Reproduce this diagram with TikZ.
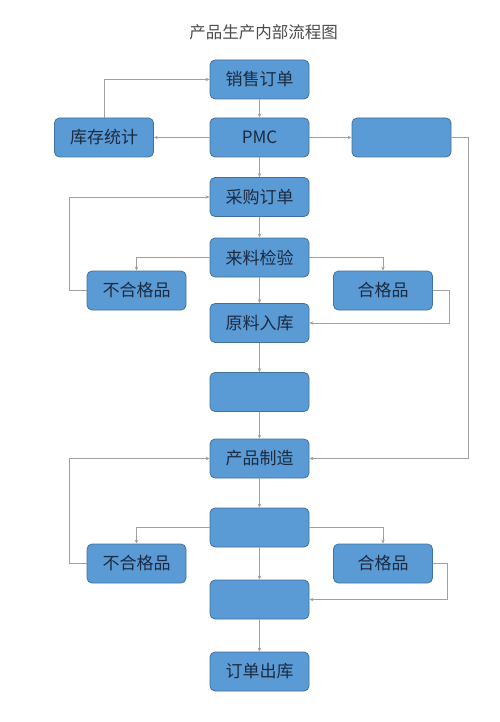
\documentclass[tikz,border=0pt]{standalone}
\usepackage{fontspec}
\setmainfont{Noto Sans CJK SC}
\usetikzlibrary{arrows.meta}
\definecolor{boxfill}{HTML}{5B9BD5}
\definecolor{boxline}{HTML}{41719C}
\definecolor{txt}{HTML}{1B2A40}
\definecolor{conncol}{HTML}{A0A0A0}
\begin{document}
\begin{tikzpicture}[x=1pt,y=-1pt,
 box/.style={draw=boxline, fill=boxfill, line width=0.8pt, rounded corners=5pt, minimum width=99pt, minimum height=39pt, inner sep=0pt, text=txt, font=\fontsize{17}{17}\selectfont},
 conn/.style={draw=conncol, line width=0.8pt, -{Stealth[length=4pt,width=3.5pt]}}]
\useasboundingbox (0,0) rectangle (500,722);
\node[text=black!70, font=\fontsize{16.5}{16.5}\selectfont] (title) at (263.5,32) {产品生产内部流程图};
\node[box] (xs) at (259.5,79.5) {销售订单};
\node[box] (pmc) at (259.5,137.5) {PMC};
\node[box] (kc) at (104,137.5) {库存统计};
\node[box] (rb) at (401.5,137.5) {};
\node[box] (cg) at (259.5,197) {采购订单};
\node[box] (ll) at (259.5,257.5) {来料检验};
\node[box] (bh1) at (136.5,290.5) {不合格品};
\node[box] (hg1) at (383,290.5) {合格品};
\node[box] (yl) at (259.5,323) {原料入库};
\node[box] (b1) at (259.5,392) {};
\node[box] (zz) at (259.5,458.5) {产品制造};
\node[box] (b2) at (259.5,527.5) {};
\node[box] (bh2) at (136.5,563.5) {不合格品};
\node[box] (hg2) at (383,563.5) {合格品};
\node[box] (b3) at (259.5,599.5) {};
\node[box] (ck) at (259.5,671.5) {订单出库};
\draw[conn] (xs) -- (pmc);
\draw[conn] (pmc) -- (kc);
\draw[conn] (kc.north) |- (xs.west);
\draw[conn] (pmc) -- (rb);
\draw[conn] (pmc) -- (cg);
\draw[conn] (cg) -- (ll);
\draw[conn] (ll.west) -| (bh1.north);
\draw[conn] (ll.east) -| (hg1.north);
\draw[conn] (ll) -- (yl);
\draw[conn] (bh1.west) -- ++(-17,0) |- (cg.west);
\draw[conn] (hg1.east) -- ++(16.5,0) |- (yl.east);
\draw[conn] (yl) -- (b1);
\draw[conn] (b1) -- (zz);
\draw[conn] (rb.east) -- ++(17,0) |- (zz.east);
\draw[conn] (zz) -- (b2);
\draw[conn] (b2.west) -| (bh2.north);
\draw[conn] (b2.east) -| (hg2.north);
\draw[conn] (b2) -- (b3);
\draw[conn] (bh2.west) -- ++(-17,0) |- (zz.west);
\draw[conn] (hg2.east) -- ++(14.5,0) |- (b3.east);
\draw[conn] (b3) -- (ck);
\end{tikzpicture}
\end{document}
